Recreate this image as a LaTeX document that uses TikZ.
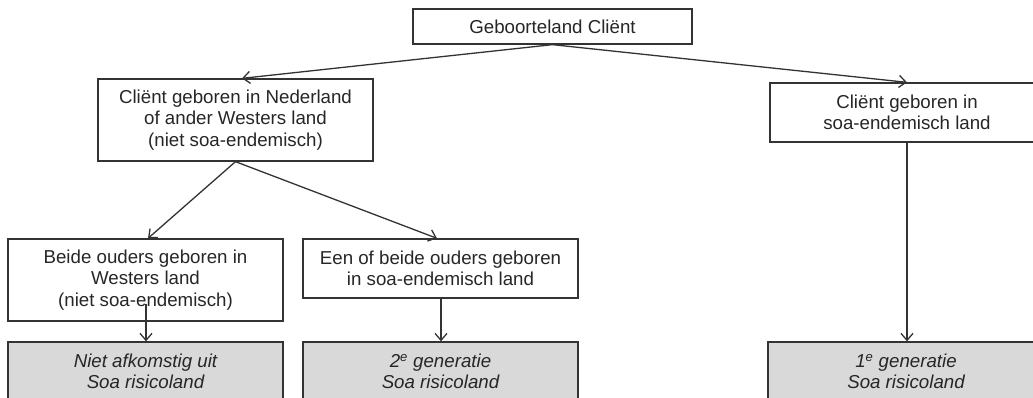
\documentclass[tikz,border=0pt]{standalone}
\usepackage{fontspec}
\setmainfont{Liberation Sans}
\usepackage{tikz}
\usetikzlibrary{arrows.meta}

\begin{document}
\begin{tikzpicture}[x=1pt, y=-1pt, line width=1.3pt,
	box/.style={shape=rectangle, draw=black!80, inner sep=0, align=center, text=black!85, font=\fontsize{18.7}{21.5}\selectfont},
	endbox/.style={box, fill=black!15, font=\fontsize{18.7}{21.5}\selectfont\itshape},
	arr/.style={draw=black!80, -{Straight Barb[length=7pt, width=12pt]}}]
	\clip (0, 0) rectangle (1033, 398);
	% Boxes:
	\node[box, minimum width=279pt, minimum height=35pt](Rect1) at (552.5, 26.5){Geboorteland Cliënt};
	\node[box, minimum width=275pt, minimum height=82pt](Rect2) at (235.5, 120){Cliënt geboren in Nederland\\of ander Westers land\\(niet soa-endemisch)};
	\node[box, minimum width=274pt, minimum height=59pt](Rect3) at (907, 112.5){Cliënt geboren in\\soa-endemisch land};
	\node[box, minimum width=275pt, minimum height=82pt](Rect4) at (145.5, 280){Beide ouders geboren in\\Westers land\\(niet soa-endemisch)};
	\node[box, minimum width=275pt, minimum height=59pt](Rect5) at (440.5, 268.5){Een of beide ouders geboren\\in soa-endemisch land};
	\node[endbox, minimum width=275pt, minimum height=59pt](Rect6) at (145.5, 371.5){Niet afkomstig uit\\Soa risicoland};
	\node[endbox, minimum width=275pt, minimum height=59pt](Rect7) at (440.5, 371.5){2\textsuperscript{e} generatie\\Soa risicoland};
	\node[endbox, minimum width=276pt, minimum height=59pt](Rect8) at (906, 371.5){1\textsuperscript{e} generatie\\Soa risicoland};
	% Arrows:
	\draw[arr] (Rect1.south) -- ([xshift=6.5pt]Rect2.north);
	\draw[arr] (Rect1.south) -- (Rect3.north);
	\draw[arr] (Rect2.south) -- ([xshift=2.5pt]Rect4.north);
	\draw[arr] (Rect2.south) -- ([xshift=-3.5pt]Rect5.north);
	\draw[arr] ([xshift=0.5pt, yshift=18pt]Rect4.south) -- ([xshift=0.5pt]Rect6.north);
	\draw[arr] ([xshift=0.5pt]Rect5.south) -- ([xshift=0.5pt]Rect7.north);
	\draw[arr] (Rect3.south) -- ([xshift=1pt]Rect8.north);
\end{tikzpicture}
\end{document}
